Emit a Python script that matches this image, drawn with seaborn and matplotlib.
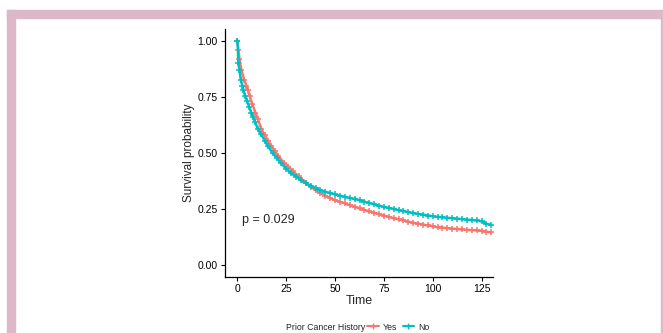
import matplotlib
matplotlib.use("Agg")
import matplotlib.pyplot as plt
from matplotlib.lines import Line2D
from matplotlib.patches import Rectangle
import seaborn as sns
import pandas as pd

# survival curves
time_yes = [0, 0.5, 1, 2, 3.4, 4.5, 5.3, 6.3, 7.5, 9.2, 10.5, 12.3, 14, 15.6, 17.4, 19, 21, 23.8,
            26, 28.5, 31.3, 33, 35, 37.5, 40, 42.5, 45, 47.5, 50, 52.5, 55, 57.5, 60, 62.5, 65,
            67.5, 70, 72.5, 75, 77.5, 80, 82.5, 85, 87.5, 90, 92.5, 95, 97.5, 100, 102.5, 105,
            107.5, 110, 112.5, 115, 117.5, 120, 122.5, 125, 127.5, 130]
surv_yes = [1.0, 0.96, 0.92, 0.87, 0.826, 0.80, 0.78, 0.752, 0.72, 0.679, 0.65, 0.605, 0.58,
            0.555, 0.531, 0.51, 0.485, 0.457, 0.44, 0.418, 0.398, 0.38, 0.366, 0.35, 0.335,
            0.322, 0.31, 0.30, 0.29, 0.283, 0.276, 0.268, 0.261, 0.254, 0.247, 0.24, 0.234,
            0.228, 0.222, 0.216, 0.21, 0.205, 0.20, 0.195, 0.19, 0.186, 0.182, 0.178, 0.174,
            0.17, 0.168, 0.166, 0.164, 0.162, 0.16, 0.158, 0.157, 0.156, 0.154, 0.15, 0.147]
time_no = [0, 0.5, 1, 1.7, 2.5, 3, 4.1, 5, 6, 7.1, 8, 9, 10.5, 12, 14, 15.6, 18, 20, 22.1, 25,
           27.5, 30, 32.5, 35, 37.5, 40, 42.5, 45, 47.5, 50, 52.5, 55, 57.5, 60, 62.5, 65, 67.5,
           70, 72.5, 75, 77.5, 80, 82.5, 85, 87.5, 90, 92.5, 95, 97.5, 100, 102.5, 105, 107.5,
           110, 112.5, 115, 117.5, 120, 122.5, 125, 127.5, 130]
surv_no = [1.0, 0.90, 0.87, 0.826, 0.80, 0.78, 0.752, 0.73, 0.705, 0.679, 0.66, 0.64, 0.605,
           0.585, 0.555, 0.531, 0.50, 0.48, 0.457, 0.43, 0.41, 0.395, 0.38, 0.366, 0.355, 0.344,
           0.335, 0.328, 0.322, 0.316, 0.31, 0.305, 0.30, 0.296, 0.29, 0.284, 0.278, 0.272,
           0.266, 0.26, 0.256, 0.251, 0.246, 0.242, 0.237, 0.233, 0.229, 0.226, 0.222, 0.219,
           0.216, 0.214, 0.212, 0.21, 0.208, 0.206, 0.204, 0.202, 0.20, 0.196, 0.186, 0.18]
groups = ["Yes", "No"]
colors = {"Yes": "#F8766D", "No": "#00BFC4"}
y_ticks = [0.00, 0.25, 0.50, 0.75, 1.00]
x_ticks = [0, 25, 50, 75, 100, 125]

df = pd.concat([
    pd.DataFrame({"Time": time_yes, "surv": surv_yes, "group": "Yes"}),
    pd.DataFrame({"Time": time_no, "surv": surv_no, "group": "No"}),
])

sns.set_style("ticks")
plt.rcParams["font.family"] = ["Liberation Sans", "DejaVu Sans"]

fig = plt.figure(figsize=(6.63, 3.33), dpi=100)
ax = fig.add_axes([0.339, 0.169, 0.405, 0.743])

sns.lineplot(data=df, x="Time", y="surv", hue="group", hue_order=groups, palette=colors,
             estimator=None, sort=True, lw=1.8, marker="+", markersize=5,
             markeredgewidth=1.1, legend=False, ax=ax)
# seaborn gives markers a white edge; "+" is all edge, so colour it like the line
for line in ax.lines:
    line.set_markeredgecolor(line.get_color())

ax.set_xlim(-6.5, 131)
ax.set_ylim(-0.05, 1.05)
ax.set_xticks(x_ticks)
ax.set_yticks(y_ticks)
ax.set_yticklabels([f"{v:.2f}" for v in y_ticks])
ax.tick_params(labelsize=7.5, length=3, width=0.8, pad=2, colors="black")
ax.set_xlabel("Time", fontsize=9, labelpad=1)
ax.set_ylabel("Survival probability", fontsize=8.5, labelpad=2)
for s in ["left", "bottom"]:
    ax.spines[s].set_linewidth(0.9)
    ax.spines[s].set_color("black")
sns.despine(ax=ax)

ax.text(2.5, 0.2, "p = 0.029", fontsize=9, va="center", ha="left")

# legend in one row under the plot
fig.text(0.551, 0.018, "Prior Cancer History", fontsize=6.3, ha="right", va="center")
handles = [Line2D([], [], color=colors[g], lw=1.5, marker="+", markersize=5) for g in groups]
fig.legend(handles, groups, loc="center left", bbox_to_anchor=(0.554, 0.018), ncol=2,
           frameon=False, fontsize=6.3, handlelength=1.3, handletextpad=0.5,
           columnspacing=0.6, borderpad=0, borderaxespad=0)

# pink frame around the figure
pink = "#dcb8c9"
fig.patches.append(Rectangle((7 / 663, 0), 8 / 663, 1 - 10 / 333, transform=fig.transFigure,
                             color=pink, zorder=0))
fig.patches.append(Rectangle((7 / 663, 1 - 18 / 333), 1, 8 / 333, transform=fig.transFigure,
                             color=pink, zorder=0))
fig.patches.append(Rectangle((661 / 663, 0), 2 / 663, 1 - 10 / 333, transform=fig.transFigure,
                             color=pink, zorder=0))

fig.savefig("out.png", dpi=100)
